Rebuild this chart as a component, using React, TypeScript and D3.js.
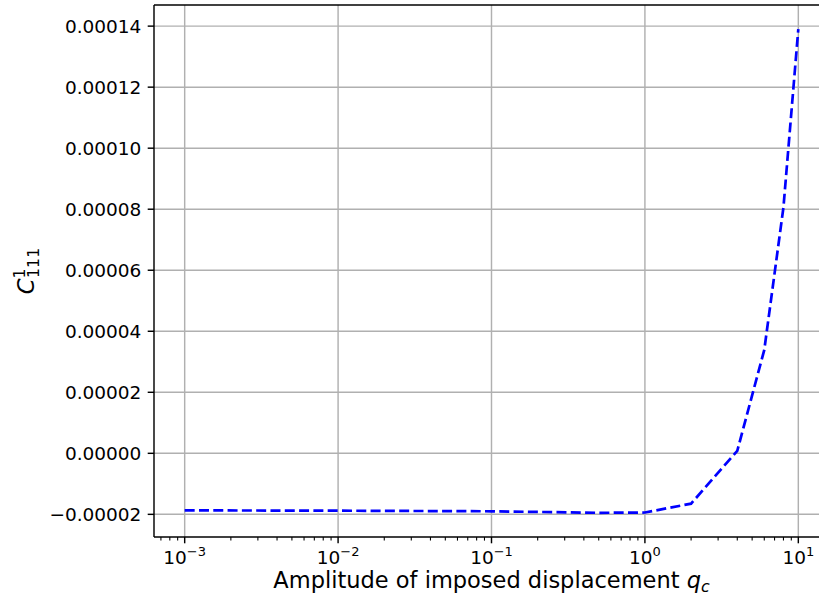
import { scaleLinear, scaleLog, line } from "d3";

// amplitude of imposed displacement and the C^1_111 coefficient
const qc = [0.001, 0.01, 0.1, 0.5, 1, 2, 4, 6, 8, 10];
const c111 = [
  -1.87e-5, -1.88e-5, -1.9e-5, -1.95e-5, -1.94e-5, -1.65e-5, 0.08e-5, 3.39e-5,
  8.06e-5, 13.9e-5,
];
const yTicks = [-0.00002, 0, 0.00002, 0.00004, 0.00006, 0.00008, 0.0001, 0.00012, 0.00014];
const xExponents = [-3, -2, -1, 0, 1];

const W = 819;
const H = 605;
const left = 154;
const right = 829;
const top = 5;
const bottom = 537;
const font = "DejaVu Sans, sans-serif";

export default function App() {
  const lx0 = Math.log10(qc[0]);
  const lx1 = Math.log10(qc[qc.length - 1]);
  const mx = (lx1 - lx0) * 0.05;
  const x = scaleLog()
    .domain([10 ** (lx0 - mx), 10 ** (lx1 + mx)])
    .range([left, right]);

  const ymin = Math.min(...c111);
  const ymax = Math.max(...c111);
  const my = (ymax - ymin) * 0.05;
  const y = scaleLinear()
    .domain([ymin - my, ymax + my])
    .range([bottom, top]);

  const path = line<number>()
    .x((_, i) => x(qc[i]))
    .y((d) => y(d))(c111);

  const minor: number[] = [];
  for (let e = -4; e <= 1; e++) {
    for (let m = 2; m <= 9; m++) {
      const v = m * 10 ** e;
      const px = x(v);
      if (px >= left && px <= right) minor.push(v);
    }
  }

  const fmt = (v: number) => {
    const s = Math.abs(v).toFixed(5);
    return v < -1e-12 ? "\u2212" + s : s;
  };

  return (
    <svg
      width={W}
      height={H}
      style={{ position: "absolute", left: 0, top: 0, background: "#fff" }}
      fontFamily={font}
    >
      {/* grid */}
      {xExponents.map((e) => (
        <line
          key={"gx" + e}
          x1={x(10 ** e)}
          x2={x(10 ** e)}
          y1={top}
          y2={bottom}
          stroke="#b0b0b0"
          strokeWidth={1.44}
        />
      ))}
      {yTicks.map((t) => (
        <line
          key={"gy" + t}
          x1={left}
          x2={right}
          y1={y(t)}
          y2={y(t)}
          stroke="#b0b0b0"
          strokeWidth={1.44}
        />
      ))}

      <path
        d={path ?? ""}
        fill="none"
        stroke="#0000ff"
        strokeWidth={2.7}
        strokeDasharray="10,4.3"
      />

      {/* spines */}
      <line x1={left} x2={left} y1={top} y2={bottom} stroke="#000" strokeWidth={1.44} />
      <line x1={left} x2={right} y1={bottom} y2={bottom} stroke="#000" strokeWidth={1.44} />
      <line x1={left} x2={right} y1={top} y2={top} stroke="#000" strokeWidth={1.44} />
      <line x1={right} x2={right} y1={top} y2={bottom} stroke="#000" strokeWidth={1.44} />

      {/* y ticks */}
      {yTicks.map((t) => (
        <g key={"yt" + t}>
          <line x1={left - 6.3} x2={left} y1={y(t)} y2={y(t)} stroke="#000" strokeWidth={1.44} />
          <text
            x={left - 12.6}
            y={y(t)}
            dy="0.36em"
            textAnchor="end"
            fontSize={18.5}
            fill="#000"
          >
            {fmt(t)}
          </text>
        </g>
      ))}

      {/* x ticks */}
      {xExponents.map((e) => (
        <g key={"xt" + e}>
          <line
            x1={x(10 ** e)}
            x2={x(10 ** e)}
            y1={bottom}
            y2={bottom + 6.3}
            stroke="#000"
            strokeWidth={1.44}
          />
          <text x={x(10 ** e)} y={563.5} textAnchor="middle" fontSize={18.5} fill="#000">
            <tspan>10</tspan>
            <tspan fontSize={13} dy={-7.7}>
              {e < 0 ? "\u2212" + Math.abs(e) : String(e)}
            </tspan>
          </text>
        </g>
      ))}
      {minor.map((v) => (
        <line
          key={"mn" + v}
          x1={x(v)}
          x2={x(v)}
          y1={bottom}
          y2={bottom + 3.6}
          stroke="#000"
          strokeWidth={1.08}
        />
      ))}

      {/* axis labels */}
      <text x={(left + right) / 2} y={588} textAnchor="middle" fontSize={22.5} fill="#000">
        Amplitude of imposed displacement{" "}
        <tspan fontStyle="italic">q</tspan>
        <tspan fontStyle="italic" fontSize={15.8} dy={4}>
          c
        </tspan>
      </text>
      <text
        transform={`translate(34, ${(top + bottom) / 2}) rotate(-90)`}
        textAnchor="middle"
        fontSize={22.5}
        fill="#000"
      >
        <tspan fontStyle="italic">C</tspan>
        <tspan fontSize={15.8} dy={-9.5}>
          1
        </tspan>
        <tspan fontSize={15.8} dx={-9.5} dy={14.5}>
          111
        </tspan>
      </text>
    </svg>
  );
}
